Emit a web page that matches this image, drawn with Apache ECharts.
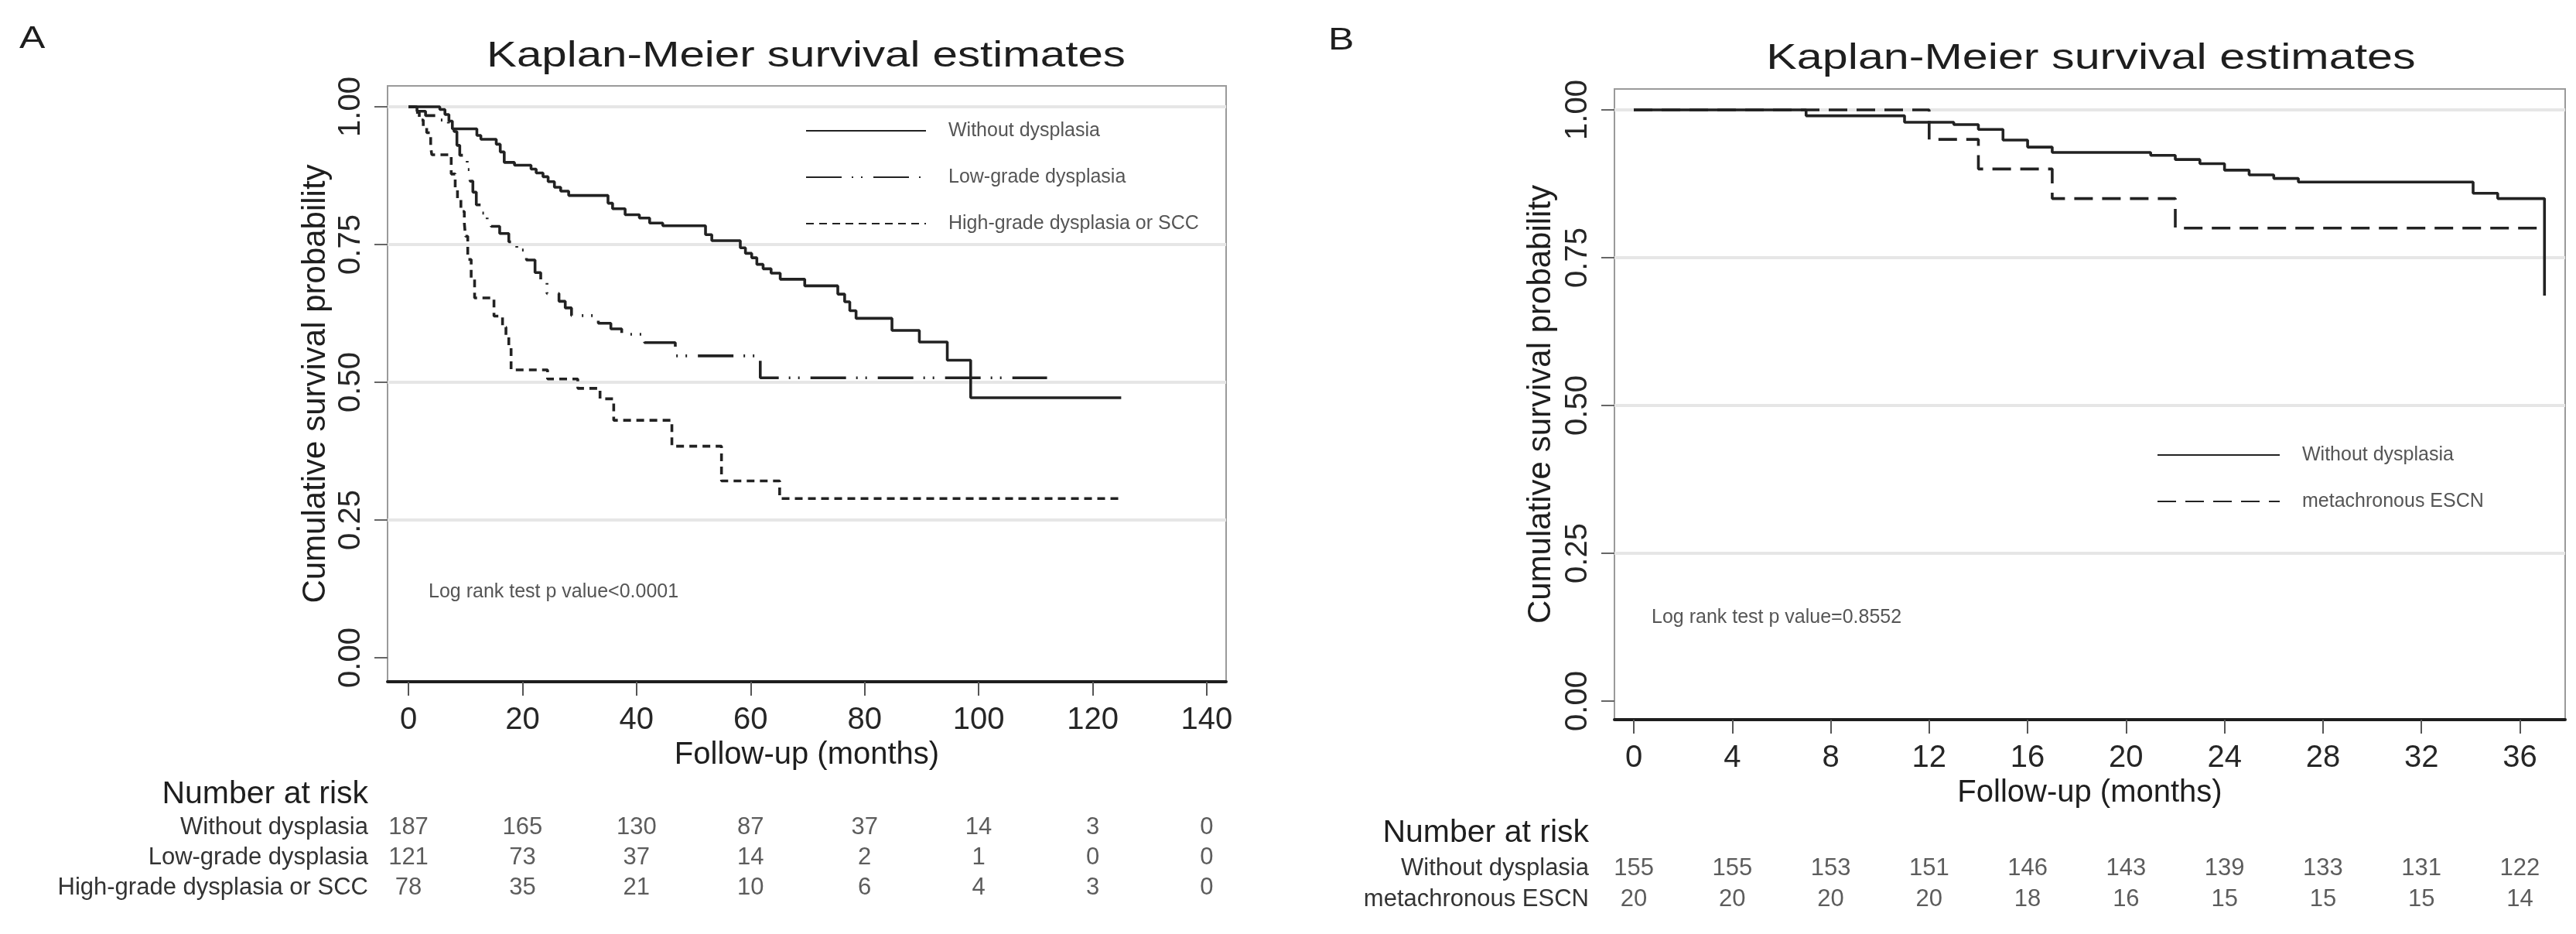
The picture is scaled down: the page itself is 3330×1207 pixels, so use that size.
<!DOCTYPE html>
<html>
<head>
<meta charset="utf-8">
<script src="https://cdn.jsdelivr.net/npm/echarts@6/dist/echarts.min.js"></script>
<style>
html,body{margin:0;padding:0;background:#fff;}
#c{width:3330px;height:1207px;}
</style>
</head>
<body>
<div id="c"></div>
<script>
// ---------- data ----------
const ticksA = [0, 20, 40, 60, 80, 100, 120, 140];
const ticksB = [0, 4, 8, 12, 16, 20, 24, 28, 32, 36];
const yTicks = [0, 0.25, 0.5, 0.75, 1];
const gridValues = [0.25, 0.5, 0.75, 1];

const groupsA = ['Without dysplasia', 'Low-grade dysplasia', 'High-grade dysplasia or SCC'];
const groupsB = ['Without dysplasia', 'metachronous ESCN'];

// Kaplan-Meier steps [months, survival]
const withoutA = [[0,1],[5.5,0.995],[6.4,0.986],[7.1,0.974],[7.7,0.96],[12.0,0.948],[12.7,0.941],[15.4,0.932],[16.1,0.918],[16.8,0.899],[18.6,0.894],[21.5,0.887],[22.4,0.88],[23.6,0.873],[24.5,0.864],[25.6,0.854],[26.7,0.847],[28.1,0.839],[35.0,0.825],[35.8,0.815],[38.0,0.804],[40.5,0.798],[42.3,0.789],[44.6,0.784],[52.1,0.768],[53.2,0.757],[58.2,0.744],[59.1,0.734],[60.2,0.726],[61.1,0.714],[62.2,0.706],[63.6,0.698],[65.2,0.687],[69.5,0.675],[75.3,0.66],[76.5,0.646],[77.4,0.63],[78.5,0.616],[84.8,0.594],[89.6,0.573],[94.5,0.54],[98.6,0.472],[125,0.472]];
const lowGradeA = [[0,1],[1.5,0.992],[3,0.984],[5,0.976],[7,0.968],[8,0.955],[8.5,0.93],[9,0.912],[10.3,0.886],[10.8,0.865],[11.3,0.845],[11.9,0.822],[12.9,0.807],[13.8,0.795],[14.5,0.783],[16,0.77],[17.6,0.755],[19,0.74],[20.7,0.722],[22.2,0.699],[23.2,0.68],[24.3,0.661],[26.4,0.647],[27.5,0.635],[28.6,0.621],[33.3,0.607],[35.5,0.597],[37.4,0.587],[41.4,0.572],[46.8,0.548],[61.7,0.508],[112,0.508]];
const highGradeA = [[0,1],[1.2,0.99],[1.9,0.976],[2.6,0.965],[3.2,0.953],[3.9,0.927],[4.1,0.913],[7.5,0.878],[8.2,0.854],[8.6,0.831],[9.2,0.81],[9.8,0.789],[10,0.765],[10.4,0.723],[11,0.69],[11.6,0.653],[15,0.62],[16.5,0.6],[17.1,0.583],[17.6,0.564],[18,0.5225],[24.4,0.506],[29.7,0.489],[33.6,0.47],[36,0.431],[46.2,0.384],[54.9,0.321],[65.1,0.289],[125,0.289]];

const withoutB = [[0,1],[7,0.99],[11,0.979],[13,0.975],[14,0.967],[15,0.949],[16,0.937],[17,0.928],[21,0.923],[22,0.916],[23,0.909],[24,0.898],[25,0.89],[26,0.884],[27,0.878],[34.1,0.859],[35.1,0.85],[37,0.686]];
const escnB = [[0,1],[12,0.95],[14,0.9],[17,0.85],[22,0.8],[37,0.8]];

// Number at risk
const riskWithoutA = [187, 165, 130, 87, 37, 14, 3, 0];
const riskLowA = [121, 73, 37, 14, 2, 1, 0, 0];
const riskHighA = [78, 35, 21, 10, 6, 4, 3, 0];
const riskWithoutB = [155, 155, 153, 151, 146, 143, 139, 133, 131, 122];
const riskEscnB = [20, 20, 20, 20, 18, 16, 15, 15, 15, 14];

// ---------- chart ----------
const FONT = "'Liberation Sans', Arial, sans-serif";
const chart = echarts.init(document.getElementById('c'));

function riskData(ticks, groups, rows) {
  const out = [];
  rows.forEach((row, r) => row.forEach((n, i) => out.push([ticks[i], groups[r], n])));
  return out;
}

function plotXAxis(grid, min, max, ticks, show) {
  return {
    gridIndex: grid, type: 'value', min: min, max: max, show: show,
    axisLine: { show: true, onZero: false, lineStyle: { color: '#1e1e1e', width: 4 } },
    axisTick: { show: true, customValues: ticks, length: 18, lineStyle: { color: '#555', width: 2 } },
    axisLabel: { customValues: ticks, fontSize: 40, fontFamily: FONT, color: '#262626', margin: 30 },
    splitLine: { show: false },
    name: 'Follow-up (months)', nameLocation: 'middle', nameGap: 72,
    nameTextStyle: { fontSize: 40, fontFamily: FONT, color: '#1e1e1e' }
  };
}
function plotYAxis(grid, min, max, gap) {
  return {
    gridIndex: grid, type: 'value', min: min, max: max,
    axisLine: { show: true, onZero: false, lineStyle: { color: '#9a9a9a', width: 2 } },
    axisTick: { show: true, customValues: yTicks, length: 17, lineStyle: { color: '#666', width: 2 } },
    axisLabel: { customValues: yTicks, rotate: 90, fontSize: 40, fontFamily: FONT, color: '#262626', margin: 27,
      formatter: v => Number(v).toFixed(2) },
    splitLine: { show: false },
    name: 'Cumulative survival probability', nameLocation: 'middle', nameGap: gap,
    nameTextStyle: { fontSize: 42, fontFamily: FONT, color: '#1e1e1e' }
  };
}
function riskYAxis(grid, groups, margin) {
  return {
    gridIndex: grid, type: 'category', data: groups, inverse: true,
    axisLine: { show: false }, axisTick: { show: false }, splitLine: { show: false },
    axisLabel: { interval: 0, fontSize: 31, fontFamily: FONT, color: '#333', margin: margin }
  };
}
function gridSeries(x, y) {
  return {
    type: 'line', xAxisIndex: x, yAxisIndex: y, data: [[0, 1]], symbol: 'none', silent: true, z: 1,
    lineStyle: { opacity: 0 },
    markLine: {
      silent: true, z: 1, symbol: ['none', 'none'], label: { show: false },
      lineStyle: { color: '#e6e6e6', width: 4, type: 'solid' },
      data: gridValues.map(v => ({ yAxis: v }))
    }
  };
}
function kmSeries(name, data, x, y, type) {
  return {
    name: name, type: 'line', step: 'end', data: data, symbol: 'none', z: 3,
    xAxisIndex: x, yAxisIndex: y,
    lineStyle: { color: '#222', width: 3.6, type: type }
  };
}
function riskSeries(data, x, y) {
  return {
    type: 'scatter', xAxisIndex: x, yAxisIndex: y, data: data, symbolSize: 1,
    itemStyle: { color: 'rgba(0,0,0,0)' }, silent: true,
    label: { show: true, position: 'inside', formatter: p => String(p.value[2]),
      fontSize: 31, fontFamily: FONT, color: '#333' }
  };
}
function legend(names, left, top, width) {
  return {
    data: names, orient: 'vertical', left: left, top: top, padding: 0,
    itemWidth: width, itemHeight: 30, itemGap: 30, selectedMode: false,
    itemStyle: { opacity: 0 },
    textStyle: { fontSize: 25, lineHeight: 30, fontFamily: FONT, color: '#555', padding: [0, 0, 0, 24] }
  };
}
function txt(text, x, y, size, opts) {
  opts = opts || {};
  return {
    type: 'text', x: x, y: y, scaleX: opts.scaleX || 1, silent: true,
    style: { text: text, fontSize: size, fontFamily: FONT, fill: opts.fill || '#1e1e1e',
      align: opts.align || 'left', verticalAlign: 'middle' }
  };
}

const option = {
  backgroundColor: '#fff',
  animation: false,
  grid: [
    { left: 501, top: 111, width: 1084, height: 770, show: true, borderColor: '#9a9a9a', borderWidth: 2 },
    { left: 2087, top: 115, width: 1229, height: 815, show: true, borderColor: '#9a9a9a', borderWidth: 2 },
    { left: 501, top: 1050, width: 1084, height: 117 },
    { left: 2087, top: 1102, width: 1229, height: 80 }
  ],
  xAxis: [
    plotXAxis(0, -3.663, 143.4, ticksA, true),
    plotXAxis(1, -0.786, 37.84, ticksB, true),
    plotXAxis(2, -3.663, 143.4, ticksA, false),
    plotXAxis(3, -0.786, 37.84, ticksB, false)
  ],
  yAxis: [
    plotYAxis(0, -0.0435, 1.0379, 72),
    plotYAxis(1, -0.0314, 1.0353, 74),
    riskYAxis(2, groupsA, 25),
    riskYAxis(3, groupsB, 33)
  ],
  legend: [
    legend(groupsA, 1041, 154, 155),
    legend(groupsB, 2788, 573, 158)
  ],
  series: [
    gridSeries(0, 0),
    gridSeries(1, 1),
    kmSeries(groupsA[0], withoutA, 0, 0, 'solid'),
    kmSeries(groupsA[1], lowGradeA, 0, 0, [46, 13, 2, 10, 2, 14]),
    kmSeries(groupsA[2], highGradeA, 0, 0, [10, 7]),
    kmSeries(groupsB[0], withoutB, 1, 1, 'solid'),
    kmSeries(groupsB[1], escnB, 1, 1, [24, 12]),
    riskSeries(riskData(ticksA, groupsA, [riskWithoutA, riskLowA, riskHighA]), 2, 2),
    riskSeries(riskData(ticksB, groupsB, [riskWithoutB, riskEscnB]), 3, 3)
  ],
  graphic: [
    txt('A', 25, 51, 40, { scaleX: 1.25 }),
    txt('B', 1717, 53, 40, { scaleX: 1.25 }),
    txt('Kaplan-Meier survival estimates', 1042, 73, 47, { align: 'center', scaleX: 1.24 }),
    txt('Kaplan-Meier survival estimates', 2703, 76, 47, { align: 'center', scaleX: 1.26 }),
    txt('Number at risk', 476, 1027, 41, { align: 'right' }),
    txt('Number at risk', 2054, 1077, 41, { align: 'right' }),
    txt('Log rank test p value<0.0001', 554, 765, 25, { fill: '#555' }),
    txt('Log rank test p value=0.8552', 2135, 798, 25, { fill: '#555' })
  ]
};
chart.setOption(option);
</script>
</body>
</html>
